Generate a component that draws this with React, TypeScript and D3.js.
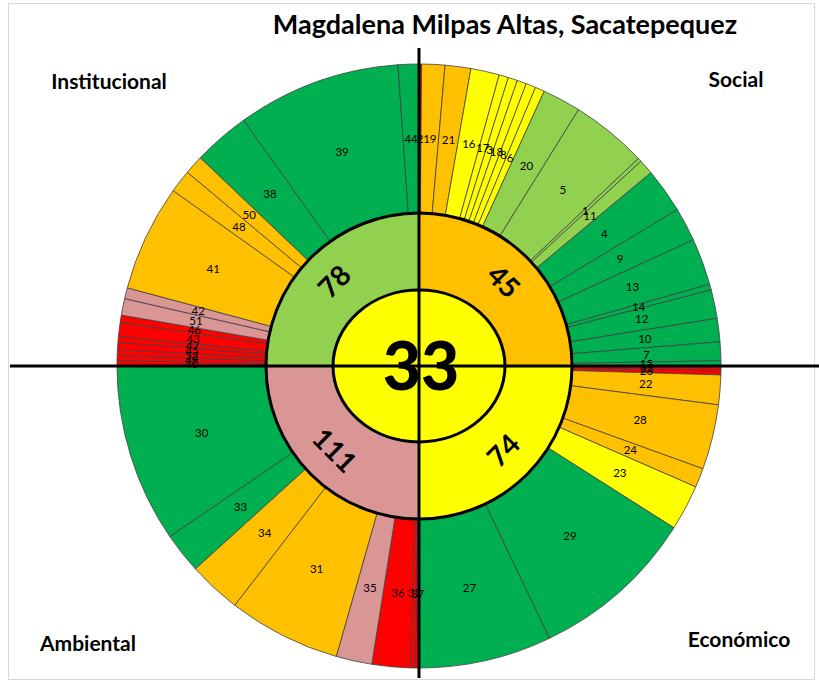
import * as React from 'react';
import { useEffect, useRef } from 'react';
import * as d3 from 'd3';

// Chart texts and scores
const chartTitle = 'Magdalena Milpas Altas, Sacatepequez';
const dimensions = ['Social', 'Económico', 'Ambiental', 'Institucional'];
const dimensionScores = [45, 74, 111, 78];
const dimensionLevels = ['naranja', 'amarillo', 'rosa', 'verdeClaro'];
const overallScore = 33;
const overallLevel = 'amarillo';

// Indicators per dimension (clockwise), their share of the quadrant and their level
const socialIds = [2, 19, 21, 16, 17, 3, 18, 8, 6, 20, 5, 1, 11, 4, 9, 13, 14, 12, 10, 7, 15];
const socialShares = [0.5, 4.45, 4.95, 5.5, 1.8, 1.8, 1.8, 1.9, 1.8, 7.4, 14.7, 0.7, 2.9, 8.6, 6.5, 9.0, 1.1, 5.5, 4.5, 3.6, 1.0];
const socialLevels = ['rojo', 'naranja', 'naranja', 'amarillo', 'amarillo', 'amarillo', 'amarillo', 'amarillo', 'amarillo',
  'verdeClaro', 'verdeClaro', 'verdeClaro', 'verdeClaro', 'verde', 'verde', 'verde', 'verde', 'verde', 'verde', 'verde', 'verde'];

const economicoIds = [25, 26, 22, 28, 24, 23, 29, 27];
const economicoShares = [0.8, 0.9, 5.7, 12.5, 3.7, 8.8, 32.0, 25.6];
const economicoLevels = ['rojo', 'rojo', 'naranja', 'naranja', 'naranja', 'amarillo', 'verde', 'verde'];

const ambientalIds = [37, 32, 36, 35, 31, 34, 33, 30];
const ambientalShares = [0.7, 0.9, 7.4, 6.9, 21.7, 10.2, 7.8, 34.4];
const ambientalLevels = ['rojo', 'rojo', 'rojo', 'rosa', 'naranja', 'naranja', 'verde', 'verde'];

const institucionalIds = [40, 49, 52, 45, 47, 43, 46, 51, 42, 41, 48, 50, 38, 39, 44];
const institucionalShares = [1.0, 1.0, 1.1, 1.4, 1.1, 2.7, 1.4, 3.2, 2.1, 20.5, 4.4, 3.7, 10.9, 31.5, 4.0];
const institucionalLevels = ['rojo', 'rojo', 'rojo', 'rojo', 'rojo', 'rojo', 'rojo', 'rosa', 'rosa',
  'naranja', 'naranja', 'naranja', 'verde', 'verde', 'verde'];

interface Segment {
  id: number;
  share: number;
  level: string;
}

const levelColor = d3.scaleOrdinal<string, string>()
  .domain(['verde', 'verdeClaro', 'amarillo', 'naranja', 'rojo', 'rosa'])
  .range(['#00B050', '#92D050', '#FFFF00', '#FFC000', '#FF0000', '#DA9694']);

const zip = (ids: number[], shares: number[], levels: string[]): Segment[] =>
  ids.map((id, i) => ({ id, share: shares[i], level: levels[i] }));

const App: React.FC = () => {
  const svgRef = useRef<SVGSVGElement>(null);
  const width = 819;
  const height = 682;

  useEffect(() => {
    const svg = d3.select(svgRef.current);
    svg.selectAll('*').remove();

    const cx = 419;
    const cy = 366;
    const rCenterX = 86;
    const rCenterY = 76;
    const rInner = 153;
    const rOuter = 302;
    const font = 'Lato, Calibri, sans-serif';

    const groups = [
      zip(socialIds, socialShares, socialLevels),
      zip(economicoIds, economicoShares, economicoLevels),
      zip(ambientalIds, ambientalShares, ambientalLevels),
      zip(institucionalIds, institucionalShares, institucionalLevels),
    ];

    // frame
    svg.append('rect')
      .attr('x', 8.5).attr('y', 3.5)
      .attr('width', 806).attr('height', 676)
      .attr('fill', 'white')
      .attr('stroke', '#d9d9d9');

    const g = svg.append('g').attr('transform', `translate(${cx},${cy})`);

    const outerArc = d3.arc<d3.PieArcDatum<Segment>>()
      .innerRadius(rInner)
      .outerRadius(rOuter);

    // outer ring, one pie per quadrant
    const outerData = groups.flatMap((seg, q) =>
      d3.pie<Segment>()
        .sort(null)
        .value(d => d.share)
        .startAngle(q * Math.PI / 2)
        .endAngle((q + 1) * Math.PI / 2)(seg)
    );

    g.append('g')
      .selectAll('path')
      .data(outerData)
      .enter().append('path')
      .attr('d', outerArc)
      .attr('fill', d => levelColor(d.data.level))
      .attr('stroke', '#404040')
      .attr('stroke-width', 0.8);

    // inner ring: dimension scores
    const innerData = d3.pie<number>().sort(null).value(() => 1)(dimensionScores);
    const innerArc = d3.arc<d3.PieArcDatum<number>>().innerRadius(0).outerRadius(rInner);
    const labelArc = d3.arc<d3.PieArcDatum<number>>().innerRadius(rCenterX).outerRadius(rInner);

    g.append('g')
      .selectAll('path')
      .data(innerData)
      .enter().append('path')
      .attr('d', innerArc)
      .attr('fill', (_, i) => levelColor(dimensionLevels[i]));

    g.append('circle')
      .attr('r', rInner)
      .attr('fill', 'none')
      .attr('stroke', 'black')
      .attr('stroke-width', 3);

    // outer labels
    g.append('g')
      .selectAll('text')
      .data(outerData)
      .enter().append('text')
      .attr('transform', d => `translate(${outerArc.centroid(d)})`)
      .attr('text-anchor', 'middle')
      .attr('dy', '0.35em')
      .attr('font-family', font)
      .attr('font-size', 11.5)
      .attr('fill', '#000')
      .text(d => d.data.id);

    // quadrant cross
    svg.append('line')
      .attr('x1', cx).attr('x2', cx)
      .attr('y1', 48).attr('y2', 678)
      .attr('stroke', 'black').attr('stroke-width', 3);
    svg.append('line')
      .attr('x1', 10).attr('x2', width)
      .attr('y1', cy).attr('y2', cy)
      .attr('stroke', 'black').attr('stroke-width', 3);

    // center
    g.append('ellipse')
      .attr('rx', rCenterX)
      .attr('ry', rCenterY)
      .attr('fill', levelColor(overallLevel))
      .attr('stroke', 'black')
      .attr('stroke-width', 3);

    g.append('text')
      .attr('text-anchor', 'middle')
      .attr('x', 2)
      .attr('dy', '0.36em')
      .attr('font-family', font)
      .attr('font-weight', 900)
      .attr('font-size', 66)
      .text(overallScore);

    g.append('g')
      .selectAll('text')
      .data(innerData)
      .enter().append('text')
      .attr('transform', d => {
        const [x, y] = labelArc.centroid(d);
        const deg = ((d.startAngle + d.endAngle) / 2) * 180 / Math.PI;
        const rot = ((deg + 90) % 180) - 90;
        return `translate(${x},${y}) rotate(${rot})`;
      })
      .attr('text-anchor', 'middle')
      .attr('dy', '0.35em')
      .attr('font-family', font)
      .attr('font-weight', 'bold')
      .attr('font-size', 28)
      .text(d => d.data);

    // title and dimension names
    svg.append('text')
      .attr('x', 505).attr('y', 34)
      .attr('text-anchor', 'middle')
      .attr('font-family', font)
      .attr('font-weight', 'bold')
      .attr('font-size', 27)
      .text(chartTitle);

    const namePos = [
      { x: 736, y: 87 },
      { x: 739, y: 647 },
      { x: 88, y: 651 },
      { x: 109, y: 89 },
    ];
    svg.append('g')
      .selectAll('text')
      .data(dimensions)
      .enter().append('text')
      .attr('x', (_, i) => namePos[i].x)
      .attr('y', (_, i) => namePos[i].y)
      .attr('text-anchor', 'middle')
      .attr('font-family', font)
      .attr('font-weight', 'bold')
      .attr('font-size', 21)
      .text(d => d);
  }, []);

  return (
    <svg ref={svgRef} width={width} height={height}
      style={{ position: 'absolute', left: 0, top: 0 }} />
  );
};

export default App;
